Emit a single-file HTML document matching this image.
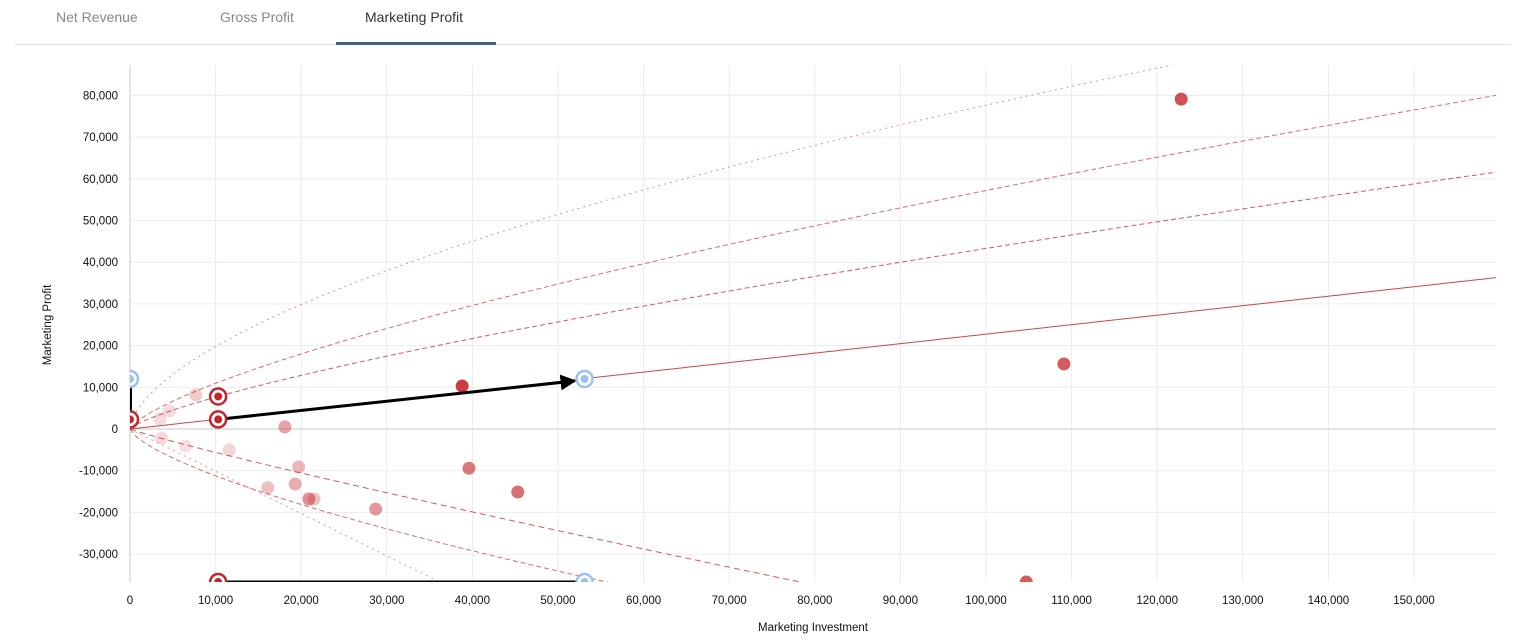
<!DOCTYPE html>
<html><head><meta charset="utf-8">
<style>
html,body{margin:0;padding:0;background:#fff;font-family:"Liberation Sans",sans-serif;width:1518px;height:643px;overflow:hidden;}
.tab{position:absolute;top:9px;font-size:14px;color:#888;}
</style></head>
<body>
<div style="position:relative;width:1518px;height:643px;overflow:hidden">
<div class="tab" style="left:56px">Net Revenue</div>
<div class="tab" style="left:220px">Gross Profit</div>
<div class="tab" style="left:365px;color:#333">Marketing Profit</div>
<div style="position:absolute;left:15px;top:44px;width:1496px;height:1px;background:#ddd"></div>
<div style="position:absolute;left:336px;top:42px;width:160px;height:3px;background:#3d6470"></div>
<svg id="chart" width="1518" height="643" style="position:absolute;left:0;top:0;display:block"></svg>
</div>
<script>
const xTicks=[0,10000,20000,30000,40000,50000,60000,70000,80000,90000,100000,110000,120000,130000,140000,150000];
const yTicks=[-30000,-20000,-10000,0,10000,20000,30000,40000,50000,60000,70000,80000];
const pointsX=[3500,4600,7700,3700,6500,11600,18100,16100,19700,19300,20900,21500,28700,38800,39600,45300,122800,109100,104700];
const pointsY=[2400,4300,8200,-2200,-4100,-5000,500,-14100,-9100,-13200,-16800,-16800,-19200,10300,-9400,-15100,79100,15600,-36700];
const pointsOpacity=[0.18,0.18,0.25,0.18,0.15,0.2,0.45,0.3,0.35,0.4,0.55,0.3,0.5,0.95,0.65,0.7,0.85,0.8,0.8];
const curveRefX=[159600,159600,159600,121800,78300,55700,36200];
const curveRefY=[36300,61600,80000,87300,-36700,-36700,-36700];
const curveExp=[1,0.754,0.718,0.594,0.913,0.69,1.0];
const curveDash=["","5,3","5,3","2,4","6,4","5,3","2,4"];
const curveOpacity=[0.9,0.8,0.7,0.55,0.8,0.7,0.5];
const redTargetsX=[0,10300,10300,10300];
const redTargetsY=[2300,2300,7800,-36700];
const blueTargetsX=[0,53100,53100];
const blueTargetsY=[12000,12000,-36700];
const arrowFrom=[10300,2300], arrowTo=[53100,12000];
const bottomFrom=[10300,-36700], bottomTo=[53100,-36700];

const X0=130,X1=1496,Y0=65,Y1=582;
const xPer=85.6/10000, yPer=41.7/10000;
const sx=v=>X0+v*xPer;
const sy=v=>429-v*yPer;
const xMax=(X1-X0)/xPer;
const svg=document.getElementById('chart');
const NS='http://www.w3.org/2000/svg';
function mk(tag,attrs,parent){const e=document.createElementNS(NS,tag);for(const k in attrs)e.setAttribute(k,attrs[k]);(parent||svg).appendChild(e);return e;}

const defs=mk('defs',{});
const cp=mk('clipPath',{id:'clip'},defs);
mk('rect',{x:X0,y:Y0,width:X1-X0,height:Y1-Y0},cp);
const mkr=mk('marker',{id:'arrow',markerWidth:16,markerHeight:16,refX:7,refY:4,orient:'auto',markerUnits:'userSpaceOnUse',viewBox:'0 0 8 8'},defs);
mk('path',{d:'M0,0 L8,4 L0,8 Z',fill:'#000'},mkr);

xTicks.forEach(t=>{
  const l=mk('line',{x1:sx(t),x2:sx(t),y1:Y0,y2:Y1,stroke:'#ececec','stroke-width':1});
  
  
  const tx=mk('text',{x:sx(t),y:604,'text-anchor':'middle','font-size':11.5,fill:'#111'});
  tx.textContent=t.toLocaleString('en-US');
  
  
});
yTicks.forEach(t=>{
  const l=mk('line',{x1:X0,x2:X1,y1:sy(t),y2:sy(t),stroke:t===0?'#c8c8c8':'#ececec','stroke-width':1});
  
  
  const tx=mk('text',{x:118,y:sy(t)+4,'text-anchor':'end','font-size':11.5,fill:'#111'});
  tx.textContent=t.toLocaleString('en-US');
  
  
});
const ya=mk('line',{x1:X0,x2:X0,y1:Y0,y2:Y1,stroke:'#c8c8c8'});



const g=mk('g',{'clip-path':'url(#clip)'});
curveRefX.forEach((rx,i)=>{
  const a=curveRefY[i]/Math.pow(rx,curveExp[i]);
  let d='';
  for(let k=0;k<=200;k++){const x=xMax*k/200;const y=a*Math.pow(x,curveExp[i]);d+=(k?'L':'M')+sx(x).toFixed(1)+','+sy(y).toFixed(1);}
  const p=mk('path',{d:d,fill:'none',stroke:'#c83238','stroke-width':1,'stroke-opacity':curveOpacity[i]},g);
  if(curveDash[i])p.setAttribute('stroke-dasharray',curveDash[i]);
  
  
});
pointsX.forEach((x,i)=>{
  const c=mk('circle',{cx:sx(x),cy:sy(pointsY[i]),r:6.5,fill:'#c83238','fill-opacity':pointsOpacity[i]},g);
  
  
});
const vl=mk('line',{x1:sx(0)+1,x2:sx(0)+1,y1:sy(redTargetsY[0]),y2:sy(blueTargetsY[0]),stroke:'#000','stroke-width':2},g);


const bl=mk('line',{x1:sx(bottomFrom[0]),y1:sy(bottomFrom[1]),x2:sx(bottomTo[0]),y2:sy(bottomTo[1]),stroke:'#000','stroke-width':3},g);


const ar=mk('line',{x1:sx(arrowFrom[0]),y1:sy(arrowFrom[1]),x2:sx(arrowTo[0])-10,y2:sy(arrowTo[1])+2,stroke:'#000','stroke-width':3,'marker-end':'url(#arrow)'},g);


function target(x,y,col,name){
  const o=mk('circle',{cx:sx(x),cy:sy(y),r:8,fill:'#fff',stroke:col,'stroke-width':2.5},g);
  
  
  mk('circle',{cx:sx(x),cy:sy(y),r:4,fill:col},g);
}
redTargetsX.forEach((x,i)=>target(x,redTargetsY[i],'#c0272d','current-target'));
blueTargetsX.forEach((x,i)=>target(x,blueTargetsY[i],'#9ac2ee','optimal-target'));

const xt=mk('text',{x:813,y:631,'text-anchor':'middle','font-size':11.5,fill:'#111'});
xt.textContent='Marketing Investment';


const yt=mk('text',{x:0,y:0,'text-anchor':'middle','font-size':11.5,fill:'#111',transform:'translate(51,325) rotate(-90)'});
yt.textContent='Marketing Profit';


</script>
</body></html>
